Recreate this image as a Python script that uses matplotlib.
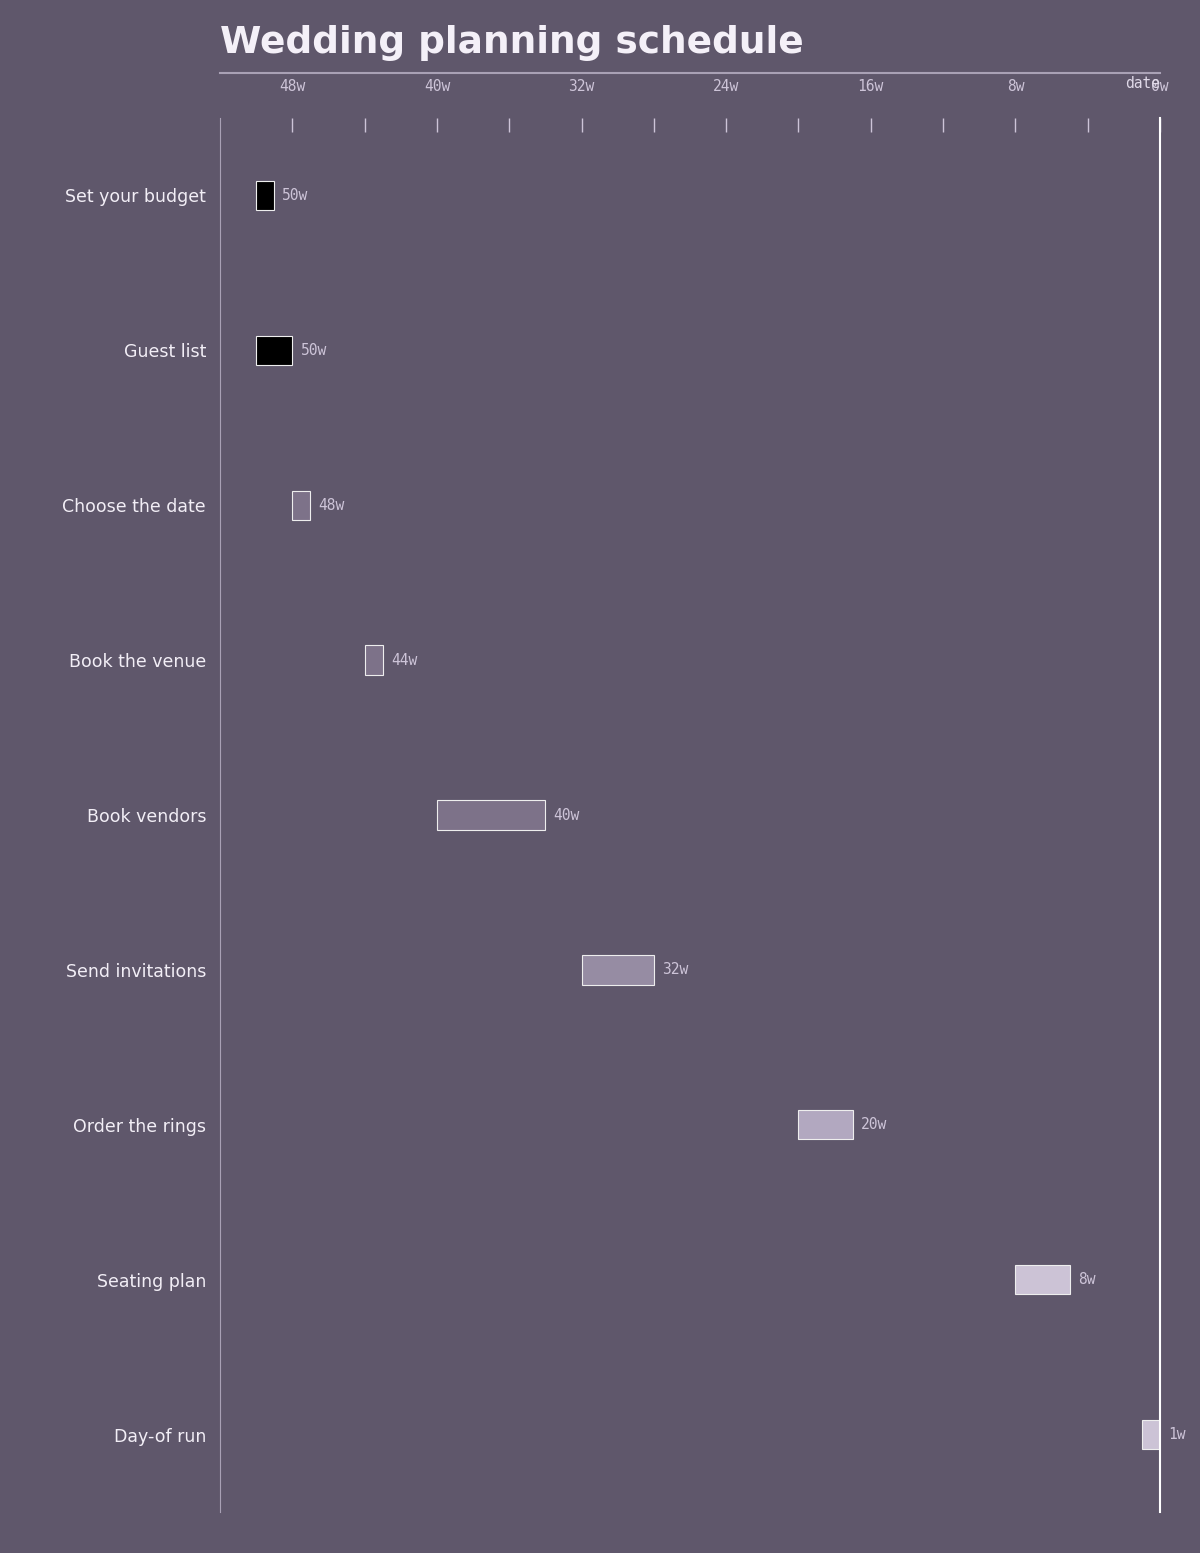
import matplotlib.pyplot as plt
import matplotlib.lines as mlines

tasks = ["Set your budget", "Guest list", "Choose the date", "Book the venue",
         "Book vendors", "Send invitations", "Order the rings", "Seating plan", "Day-of run"]
start_weeks = [50, 50, 48, 44, 40, 32, 20, 8, 1]
durations = [1, 2, 1, 1, 6, 4, 3, 3, 1]
colors = ["#000000", "#000000", "#7d7289", "#7d7289", "#7d7289",
          "#968ca3", "#b2a8c0", "#ccc3d6", "#ccc3d6"]

BG = "#5f576b"
W, H = 12, 15.53
fig = plt.figure(figsize=(W, H), dpi=100, facecolor=BG)
ax = fig.add_axes([220 / 1200, 1 - 1512 / 1553, 940 / 1200, 1394 / 1553])
ax.set_facecolor(BG)

for i, (s, d, c) in enumerate(zip(start_weeks, durations, colors)):
    ax.barh(i, d, left=s - d, height=0.19, color=c, edgecolor="#eeeeee", linewidth=0.8)
    ax.text(s - d - 0.45, i, f"{s}w", va="center", ha="left",
            family="DejaVu Sans Mono", fontsize=10.5, color="#cdc4d8")

ax.set_xlim(52, 0)
ax.set_ylim(8.5, -0.5)
ax.set_yticks(range(len(tasks)))
ax.set_yticklabels(tasks, fontsize=12.5, color="#f2eef6")
ax.tick_params(axis="y", length=0, pad=10)

ax.xaxis.tick_top()
ax.set_xticks([48, 40, 32, 24, 16, 8, 0])
ax.set_xticklabels([f"{w}w" for w in [48, 40, 32, 24, 16, 8, 0]],
                   family="DejaVu Sans Mono", fontsize=10.5, color="#cdc4d8")
ax.set_xticks([44, 36, 28, 20, 12, 4], minor=True)
ax.tick_params(axis="x", which="both", direction="in", length=10, width=1,
               color="#cdc4d8", pad=17)

for sp in ["top", "bottom"]:
    ax.spines[sp].set_visible(False)
ax.spines["left"].set_color("#a9a1b5")
ax.spines["right"].set_color("#ffffff")
ax.spines["right"].set_linewidth(1.5)

fig.text(220 / 1200, 1 - 43 / 1553, "Wedding planning schedule", fontsize=27,
         fontweight="bold", color="#f4f0f8", va="center", ha="left")
fig.add_artist(mlines.Line2D([220 / 1200, 1160 / 1200], [1 - 73 / 1553] * 2,
                             color="#a9a1b5", linewidth=1.5))
fig.text(1160 / 1200, 1 - 83 / 1553, "date", family="DejaVu Sans Mono", fontsize=10.5,
         color="#e0d9e8", ha="right", va="center")

fig.savefig("out.png", dpi=100, facecolor=BG)
